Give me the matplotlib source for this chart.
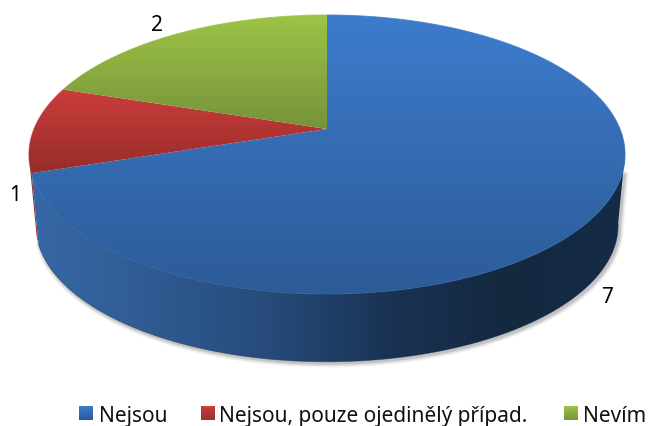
import matplotlib
matplotlib.use("Agg")
import matplotlib.pyplot as plt
import numpy as np
from matplotlib.collections import LineCollection
from matplotlib.colors import LinearSegmentedColormap
from matplotlib.patches import Polygon

categories = ["Nejsou", "Nejsou, pouze ojedinělý případ.", "Nevím"]
values = [7, 1, 2]
value_labels = ["7", "1", "2"]

# top surface gradients (light at the top, dark at the bottom)
top_colors = [("#3d7ccc", "#2c5b98"), ("#cb3d3b", "#962c2a"), ("#9dc445", "#76933a")]
legend_colors = [("#3d7ccc", "#2a5a98"), ("#cf3f3c", "#93302c"), ("#9dc445", "#76933a")]
side_stops = ["#3668a5", "#2f5b92", "#264b7a", "#1a3354", "#14283f", "#152b47"]
red_side = "#a02c2a"

plt.rcParams["font.family"] = ["Noto Sans", "DejaVu Sans"]

# perspective of the tilted disc, fitted in pixel coords
cx, apex_y = 327, 130
persp = 0.1828
ry = -111.08
rx = 293


def top_xy(theta, shrink=1.0, drop=0.0):
    u, v = np.sin(theta), np.cos(theta)
    d = persp * v + 1
    x = cx + shrink * rx * u / d
    y = (ry * v + apex_y) / d
    y = 155.5 + (y - 155.5) * shrink + drop
    return np.column_stack([x, y])


def fill_gradient(ax, pts, colors, horizontal=False):
    cmap = LinearSegmentedColormap.from_list("g", colors)
    x0, y0 = pts.min(axis=0)
    x1, y1 = pts.max(axis=0)
    grad = np.linspace(0, 1, 256)
    grad = grad.reshape(1, -1) if horizontal else grad.reshape(-1, 1)
    im = ax.imshow(grad, cmap=cmap, extent=(x0, x1, y1, y0), aspect="auto", interpolation="bilinear", zorder=ax.zcount)
    poly = Polygon(pts, closed=True, transform=ax.transData, fc="none", ec="none")
    ax.add_patch(poly)
    im.set_clip_path(poly)
    ax.zcount += 1
    return cmap, y0, y1


fig = plt.figure(figsize=(6.49, 4.27), dpi=100)
ax = fig.add_axes([0, 0, 1, 1])
ax.zcount = 2
ax.axis("off")

fractions = np.array(values) / sum(values)
edges = np.concatenate([[0], np.cumsum(fractions)]) * 2 * np.pi

# rim under the blue slice, from the right extreme round to the slice end
rim_start = np.radians(100)
rim_end = edges[1]
t = np.linspace(rim_start, rim_end, 200)
shrink, drop = 0.977, 71
lower = top_xy(t, shrink, drop)
rim = np.vstack([top_xy(t), lower[::-1]])

# soft shadow along the lower edge and up the right side
low = np.vstack([top_xy(t[:1]) + np.array([-2.0, 20.0]), lower]) + np.array([1.5, 1.5])
for lw, a in [(6, 0.05), (4, 0.08), (2, 0.12)]:
    ax.plot(low[:, 0], low[:, 1], color="black", alpha=a, lw=lw, zorder=1, solid_capstyle="round")

# thin bit of the red rim that shows behind the blue one
t2 = np.linspace(edges[1], edges[1] + np.radians(6), 20)
ax.add_patch(Polygon(np.vstack([top_xy(t2), top_xy(t2[::-1], shrink, drop)]), fc=red_side, ec="none", zorder=1.5))

fill_gradient(ax, rim, side_stops, horizontal=True)
ax.plot(lower[:, 0], lower[:, 1], color="#1f3a5e", lw=0.6, alpha=0.6, zorder=ax.zcount)
ax.zcount += 1

# top surface slices
for i in range(len(values)):
    t = np.linspace(edges[i], edges[i + 1], 200)
    arc = top_xy(t)
    pts = np.vstack([[[cx, apex_y]], arc])
    cmap, y0, y1 = fill_gradient(ax, pts, top_colors[i])
    # smooth the clipped edge with a line following the same gradient
    segs = np.stack([arc[:-1], arc[1:]], axis=1)
    lc = LineCollection(segs, cmap=cmap, lw=0.7, alpha=0.8, zorder=ax.zcount)
    lc.set_array((arc[:-1, 1] - y0) / (y1 - y0))
    lc.set_clim(0, 1)
    ax.add_collection(lc)
    ax.zcount += 1

# data labels
label_pos = [(607, 295), (15, 193), (157, 23)]
for txt, (lx, ly) in zip(value_labels, label_pos):
    ax.text(lx, ly, txt, fontsize=15, color="black", ha="center", va="center_baseline", zorder=50)

# legend
swatch_x = [79, 201, 564]
text_x = [99, 219, 583]
for name, sx, tx, cols in zip(categories, swatch_x, text_x, legend_colors):
    sq = np.array([[sx, 407], [sx + 14, 407], [sx + 14, 421], [sx, 421]], dtype=float)
    fill_gradient(ax, sq, cols)
    ax.text(tx, 414, name, fontsize=15, color="#111111", ha="left", va="center_baseline", zorder=50)

ax.set_xlim(0, 649)
ax.set_ylim(427, 0)
fig.savefig("out.png", dpi=100)
